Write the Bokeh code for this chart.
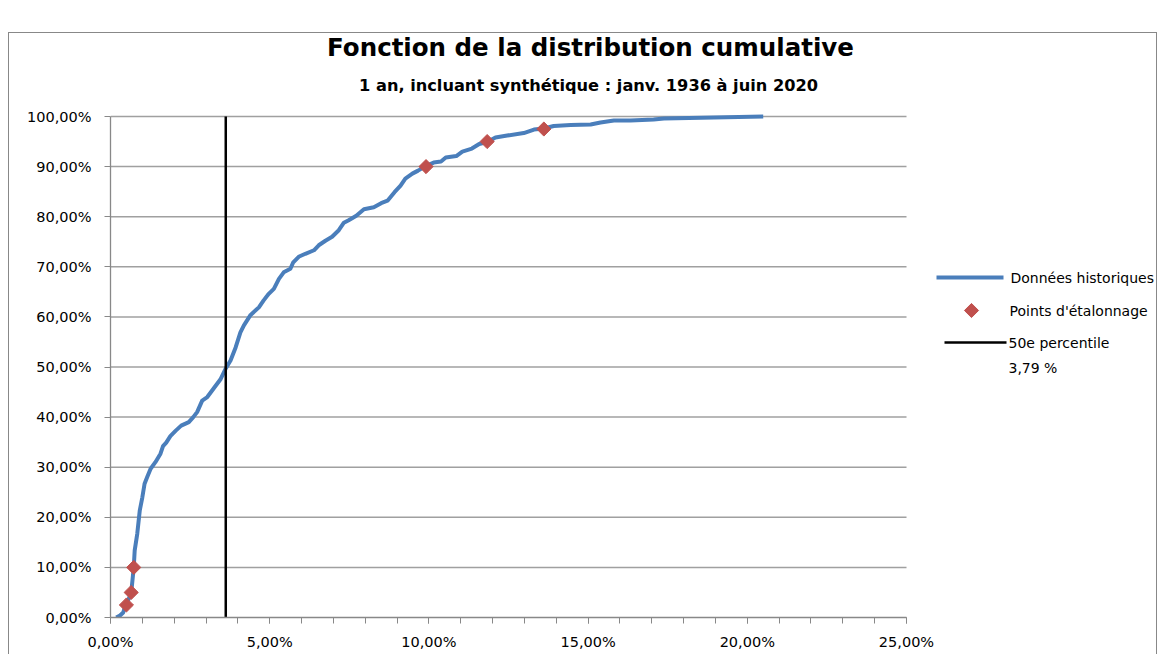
from bokeh.plotting import figure
from bokeh.models import Range1d, SingleIntervalTicker, CustomJSTickFormatter
from bokeh.core.properties import value
from bokeh.embed import file_html
from bokeh.resources import INLINE
import math

# ---- data (percent units) ----
hist_x = [0.18, 0.30, 0.40, 0.47, 0.58, 0.65, 0.71, 0.73, 0.76, 0.84, 0.92, 1.00,
          1.07, 1.15, 1.26, 1.41, 1.57, 1.65, 1.75, 1.88, 2.05, 2.22, 2.46, 2.60,
          2.72, 2.88, 3.04, 3.25, 3.45, 3.61, 3.77, 3.93, 4.08, 4.19, 4.40, 4.66,
          4.81, 4.97, 5.13, 5.29, 5.44, 5.65, 5.74, 5.91, 6.12, 6.39, 6.54, 6.75,
          6.96, 7.17, 7.33, 7.48, 7.72, 7.96, 8.27, 8.50, 8.70, 8.92, 9.11, 9.26,
          9.48, 9.66, 9.90, 10.15, 10.38, 10.53, 10.86, 11.05, 11.35, 11.58, 11.83,
          12.09, 12.46, 12.98, 13.30, 13.61, 13.92, 14.45, 15.08, 15.39, 15.81,
          16.33, 17.06, 17.38, 18.95, 20.50]
hist_y = [0.0, 0.4, 1.0, 2.4, 3.8, 4.9, 8.7, 10.0, 13.4, 16.7, 21.4, 24.0,
          26.7, 28.0, 29.7, 31.0, 32.7, 34.2, 34.9, 36.2, 37.3, 38.3, 39.0, 40.0,
          41.0, 43.3, 44.0, 45.8, 47.5, 49.6, 51.3, 53.9, 56.9, 58.3, 60.4, 61.9,
          63.3, 64.6, 65.6, 67.6, 68.9, 69.6, 70.9, 72.0, 72.6, 73.3, 74.3, 75.2,
          76.0, 77.3, 78.8, 79.3, 80.2, 81.5, 81.9, 82.7, 83.2, 84.9, 86.2, 87.6,
          88.6, 89.2, 90.1, 90.8, 91.0, 91.8, 92.1, 93.0, 93.6, 94.5, 94.9,
          95.8, 96.2, 96.7, 97.4, 97.6, 98.1, 98.3, 98.4, 98.8, 99.2,
          99.2, 99.4, 99.6, 99.8, 100.0]

calib_x = [0.50, 0.65, 0.73, 9.91, 11.83, 13.61]
calib_y = [2.5, 5.0, 10.0, 90.0, 95.0, 97.5]

p50_x = [3.62, 3.62]
p50_y = [0.0, 100.0]

x_ticks = [0, 5, 10, 15, 20, 25]
y_ticks = [0, 10, 20, 30, 40, 50, 60, 70, 80, 90, 100]

series_names = ["Données historiques", "Points d'étalonnage", "50e percentile", "3,79 %"]
title_text = "Fonction de la distribution cumulative"
subtitle_text = "1 an, incluant synthétique : janv. 1936 à juin 2020"

FONT = "DejaVu Sans"

# ---- layout geometry (page pixels) ----
FRAME_L, FRAME_R_AXIS, FRAME_T_AXIS, FRAME_B = 110, 906, 116, 617
CANVAS_L, CANVAS_T, CANVAS_R = 9, 33, 1158
PX_PER_X = (FRAME_R_AXIS - FRAME_L) / (x_ticks[-1] - x_ticks[0])
PX_PER_Y = (FRAME_B - FRAME_T_AXIS) / (y_ticks[-1] - y_ticks[0])


def dx(px):
    return (px - FRAME_L) / PX_PER_X


def dy(py):
    return (FRAME_B - py) / PX_PER_Y


x_end = dx(CANVAS_R)
y_end = dy(CANVAS_T)

p = figure(width=CANVAS_R - CANVAS_L, height=622, output_backend="svg",
           toolbar_location=None,
           x_range=Range1d(0, x_end), y_range=Range1d(0, y_end),
           min_border_left=FRAME_L - CANVAS_L, min_border_right=0, min_border_top=0,
           min_border_bottom=622 - (FRAME_B - CANVAS_T), outline_line_color=None,
           background_fill_color="white", border_fill_color="white")
p.margin = (32, 0, 0, 8)
p.styles = {"border-left": "1px solid #888888", "border-top": "1px solid #888888",
            "border-right": "1px solid #888888"}

# axes
fmt = CustomJSTickFormatter(code="return tick.toFixed(2).replace('.', ',') + '%';")
p.xaxis.ticker = SingleIntervalTicker(interval=5, num_minor_ticks=5)
p.yaxis.ticker = SingleIntervalTicker(interval=10, num_minor_ticks=0)
p.xaxis.bounds = (x_ticks[0], x_ticks[-1])
p.yaxis.bounds = (y_ticks[0], y_ticks[-1])
for ax in (p.xaxis, p.yaxis):
    ax.formatter = fmt
    ax.axis_line_color = "#888888"
    ax.axis_line_width = 1.3
    ax.major_tick_line_color = "#888888"
    ax.minor_tick_line_color = "#888888"
    ax.major_tick_in = 0
    ax.major_tick_out = 6
    ax.minor_tick_in = 0
    ax.minor_tick_out = 6
    ax.major_label_text_font = FONT
    ax.major_label_text_font_size = "14.5px"
    ax.major_label_text_color = "black"
p.yaxis.major_label_standoff = 13
p.xaxis.major_label_standoff = 10

p.xgrid.grid_line_color = None
p.ygrid.grid_line_color = None

# horizontal gridlines limited to the plot area
p.segment(x0=[x_ticks[0]] * (len(y_ticks) - 1), x1=[x_ticks[-1]] * (len(y_ticks) - 1),
          y0=y_ticks[1:], y1=y_ticks[1:], line_color="#a0a0a0", line_width=1.5)

# series
p.line(hist_x, hist_y, line_color="#4A7EBB", line_width=4, line_join="round")
p.scatter(calib_x, calib_y, marker="square", size=10, angle=math.pi / 4,
          fill_color="#C0504D", line_color="#C0504D")
p.line(p50_x, p50_y, line_color="black", line_width=2.5)

# titles
p.text(x=[dx(590)], y=[dy(47)], text=[title_text], text_align="center",
       text_baseline="middle", text_font=value(FONT), text_font_style="bold",
       text_font_size="24.5px", text_color="black")
p.text(x=[dx(588)], y=[dy(85)], text=[subtitle_text], text_align="center",
       text_baseline="middle", text_font=value(FONT), text_font_style="bold",
       text_font_size="16.2px", text_color="black")

# legend (drawn at fixed layout positions to the right of the plot area)
p.segment(x0=[dx(936)], x1=[dx(1003)], y0=[dy(277)], y1=[dy(277)],
          line_color="#4A7EBB", line_width=4)
p.scatter(x=[dx(971)], y=[dy(310)], marker="square", size=10, angle=math.pi / 4,
          fill_color="#C0504D", line_color="#C0504D")
p.segment(x0=[dx(944)], x1=[dx(1006)], y0=[dy(342)], y1=[dy(342)],
          line_color="black", line_width=2.5)
p.text(x=[dx(1010), dx(1009), dx(1008), dx(1008)],
       y=[dy(277), dy(310), dy(342), dy(367)],
       text=series_names, text_align="left", text_baseline="middle",
       text_font=value(FONT), text_font_size="14px", text_color="black")

open("out.html", "w").write(file_html(p, INLINE))
